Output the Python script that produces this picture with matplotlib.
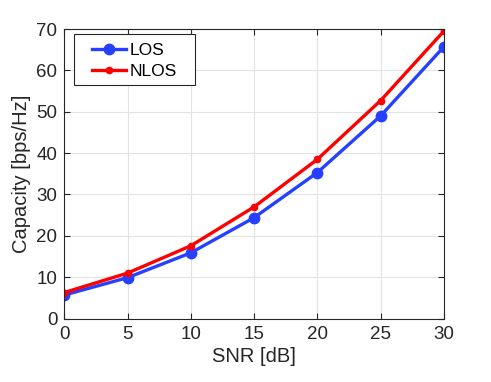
import matplotlib.pyplot as plt
from matplotlib.patches import Rectangle

plt.rcParams['font.family'] = ['Liberation Sans', 'DejaVu Sans']

# data
snr = [0, 5, 10, 15, 20, 25, 30]
cap_los = [5.7, 9.9, 15.9, 24.4, 35.3, 49.0, 65.7]
cap_nlos = [6.3, 11.0, 17.6, 27.0, 38.5, 52.7, 69.5]
xticks = [0, 5, 10, 15, 20, 25, 30]
yticks = [0, 10, 20, 30, 40, 50, 60, 70]

fig = plt.figure(figsize=(4.91, 3.82), dpi=100)
ax = fig.add_axes([0.131, 0.166, 0.773, 0.758])

ax.plot(snr, cap_los, color='#2640ff', lw=2.4, marker='o', ms=7.5, label='LOS')
ax.plot(snr, cap_nlos, color='#ff0000', lw=2.4, marker='o', ms=4.5, label='NLOS')

ax.set_xlim(0, 30)
ax.set_ylim(0, 70)
ax.set_xticks(xticks)
ax.set_yticks(yticks)
ax.grid(True, color='#e3e3e3', lw=0.8)
ax.set_axisbelow(True)
ax.tick_params(direction='in', top=True, right=True, labelsize=13.5,
               colors='#262626', length=4, width=0.8, pad=5)
for s in ax.spines.values():
    s.set_color('#262626')
    s.set_linewidth(0.8)

ax.set_xlabel('SNR [dB]', fontsize=14.5, color='#262626', labelpad=3)
ax.set_ylabel('Capacity [bps/Hz]', fontsize=14.5, color='#262626', labelpad=4)

# legend without its own frame, box drawn by hand (matlab style padding)
leg = ax.legend(loc='upper left', fontsize=12.5, frameon=False,
                handlelength=2.0, borderpad=0, labelspacing=0.32,
                handletextpad=0.17, borderaxespad=0,
                bbox_to_anchor=(0.0717, 0.951))
fig.canvas.draw()
bb = leg.get_window_extent()
inv = ax.transAxes.inverted()
x0, y0 = inv.transform((bb.x0 - 18, bb.y0 - 5.5))
x1, y1 = inv.transform((bb.x1 + 19, bb.y1 + 9))
ax.add_patch(Rectangle((x0, y0), x1 - x0, y1 - y0, transform=ax.transAxes,
                       facecolor='white', edgecolor='#262626', lw=0.8, zorder=4.5))

fig.savefig('out.png', dpi=100)
